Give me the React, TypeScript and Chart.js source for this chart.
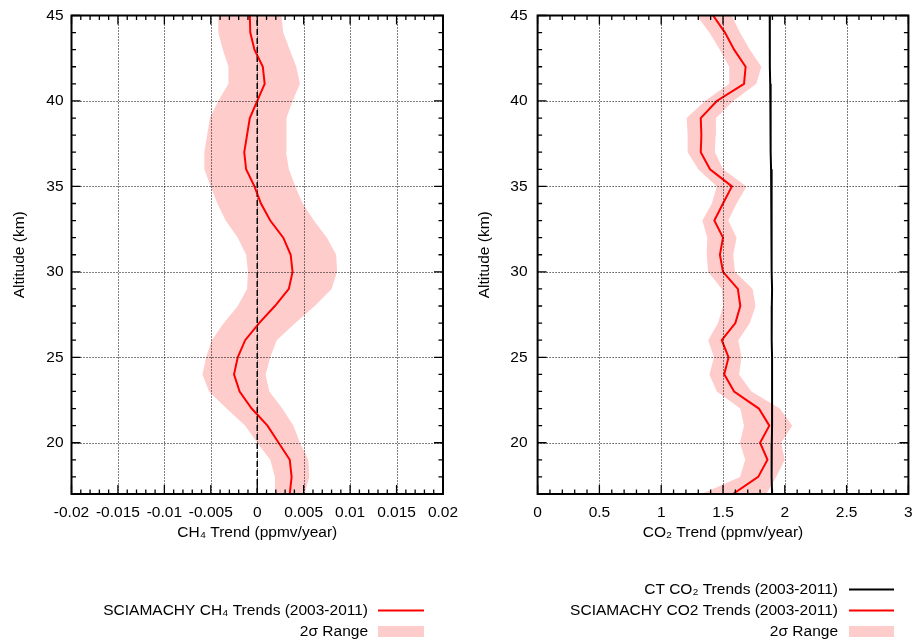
import React, { useEffect, useRef } from "react";
import { Chart, registerables } from "chart.js";

Chart.register(...registerables);

const FONT = "'Liberation Sans', Arial, Helvetica, sans-serif";
const FONT_SIZE = 15.5;

// ---------------- data ----------------
const altitudes = [45, 44, 43, 42, 41, 40, 39, 38, 37, 36, 35, 34, 33, 32, 31, 30, 29, 28, 27, 26, 25, 24, 23, 22, 21, 20, 19, 18, 17];

const ch4Trend = [-0.0008, -0.00075, -0.0003, 0.0006, 0.0008, 0.0, -0.0008, -0.0011, -0.0014, -0.0012, -0.0003, 0.0004, 0.0014, 0.0028, 0.0036, 0.0038, 0.0034, 0.0019, 0.0002, -0.0013, -0.0021, -0.0025, -0.0019, -0.0006, 0.0011, 0.0023, 0.0035, 0.0037, 0.0035];
const ch4Low = [-0.0042, -0.0042, -0.0037, -0.0031, -0.0031, -0.0042, -0.0051, -0.0054, -0.0057, -0.0057, -0.005, -0.0043, -0.0034, -0.0021, -0.0012, -0.001, -0.0011, -0.0021, -0.0036, -0.0049, -0.0055, -0.0059, -0.0052, -0.0033, -0.0013, 0.0, 0.0014, 0.0019, 0.0019];
const ch4High = [0.0026, 0.0028, 0.0035, 0.0042, 0.0046, 0.0038, 0.0032, 0.0031, 0.0031, 0.0034, 0.0041, 0.0049, 0.0061, 0.0075, 0.0085, 0.0086, 0.008, 0.0062, 0.0041, 0.0021, 0.0014, 0.0009, 0.0013, 0.0027, 0.0039, 0.0046, 0.0055, 0.0056, 0.0051];
const zeroTrend = [0, 0];
const zeroAltitudes = [17, 45];

const co2Trend = [1.42, 1.516, 1.59, 1.683, 1.67, 1.45, 1.32, 1.325, 1.32, 1.395, 1.572, 1.5, 1.43, 1.5, 1.475, 1.5, 1.62, 1.64, 1.6, 1.49, 1.545, 1.51, 1.59, 1.79, 1.875, 1.8, 1.86, 1.785, 1.58];
const co2Low = [1.287, 1.39, 1.475, 1.55, 1.55, 1.354, 1.206, 1.214, 1.214, 1.3, 1.45, 1.41, 1.333, 1.373, 1.368, 1.38, 1.49, 1.5, 1.46, 1.38, 1.427, 1.39, 1.45, 1.64, 1.67, 1.637, 1.68, 1.637, 1.327];
const co2High = [1.57, 1.637, 1.718, 1.81, 1.77, 1.583, 1.443, 1.44, 1.435, 1.5, 1.69, 1.61, 1.543, 1.61, 1.583, 1.597, 1.74, 1.763, 1.718, 1.624, 1.65, 1.63, 1.73, 1.96, 2.06, 1.97, 2.0, 1.93, 1.85];
const ctCo2Trend = [1.878, 1.878, 1.879, 1.88, 1.882, 1.884, 1.885, 1.886, 1.887, 1.889, 1.891, 1.892, 1.893, 1.894, 1.895, 1.896, 1.897, 1.895, 1.892, 1.896, 1.897, 1.897, 1.897, 1.897, 1.897, 1.895, 1.892, 1.895, 1.897];

const altitudeTicks = [20, 25, 30, 35, 40, 45];
const ch4Ticks = [-0.02, -0.015, -0.01, -0.005, 0, 0.005, 0.01, 0.015, 0.02];
const co2Ticks = [0, 0.5, 1, 1.5, 2, 2.5, 3];

// --------------- helpers ---------------
const profile = (xs: number[], ys: number[]) => ys.map((y, i) => ({ x: xs[i], y }));
const band = (lo: number[], hi: number[]) => [
  ...profile(lo, altitudes),
  ...profile(hi, altitudes).reverse(),
];

const framePlugin = {
  id: "gnuFrame",
  afterDatasetsDraw(chart: any, _a: any, opts: any) {
    const { ctx, chartArea: a, scales } = chart;
    const xs = scales.x;
    const ys = scales.y;
    ctx.save();
    // dotted grid in front
    ctx.strokeStyle = "#000";
    ctx.lineWidth = 1;
    ctx.setLineDash([1, 2]);
    xs.ticks.forEach((t: any) => {
      if (t.value <= xs.min || t.value >= xs.max) return;
      const px = Math.round(xs.getPixelForValue(t.value)) + 0.5;
      ctx.beginPath();
      ctx.moveTo(px, a.top);
      ctx.lineTo(px, a.bottom);
      ctx.stroke();
    });
    ys.ticks.forEach((t: any) => {
      if (t.value <= ys.min || t.value >= ys.max) return;
      const py = Math.round(ys.getPixelForValue(t.value)) + 0.5;
      ctx.beginPath();
      ctx.moveTo(a.left, py);
      ctx.lineTo(a.right, py);
      ctx.stroke();
    });
    ctx.setLineDash([]);
    // ticks (inward, mirrored)
    ctx.lineWidth = 1.3;
    const isMajor = (scale: any, v: number) =>
      scale.ticks.some((t: any) => Math.abs(t.value - v) < 1e-9);
    const doTicks = (scale: any, step: number, horizontal: boolean) => {
      const n = Math.round((scale.max - scale.min) / step);
      for (let i = 0; i <= n; i++) {
        const v = scale.min + i * step;
        const len = isMajor(scale, v) ? 9 : 4.5;
        const p = scale.getPixelForValue(v);
        ctx.beginPath();
        if (horizontal) {
          ctx.moveTo(p, a.bottom);
          ctx.lineTo(p, a.bottom - len);
          ctx.moveTo(p, a.top);
          ctx.lineTo(p, a.top + len);
        } else {
          ctx.moveTo(a.left, p);
          ctx.lineTo(a.left + len, p);
          ctx.moveTo(a.right, p);
          ctx.lineTo(a.right - len, p);
        }
        ctx.stroke();
      }
    };
    doTicks(xs, opts.xMinor, true);
    doTicks(ys, opts.yMinor, false);
    // border
    ctx.lineWidth = 2;
    ctx.strokeRect(a.left, a.top, a.right - a.left, a.bottom - a.top);
    ctx.restore();
  },
  afterDraw(chart: any, _a: any, opts: any) {
    const { ctx } = chart;
    const items = chart.data.datasets.filter((d: any) => d.label);
    const n = items.length;
    ctx.save();
    ctx.font = `${FONT_SIZE}px ${FONT}`;
    ctx.textAlign = "right";
    ctx.textBaseline = "middle";
    items.forEach((d: any, i: number) => {
      const y = opts.bottomY - (n - 1 - i) * opts.rowGap;
      ctx.fillStyle = "#000";
      ctx.fillText(d.label, opts.textRight, y);
      if (d.legendKind === "box") {
        ctx.fillStyle = d.backgroundColor;
        ctx.fillRect(opts.sampleLeft, y - 5.5, opts.sampleRight - opts.sampleLeft, 11);
      } else {
        ctx.strokeStyle = d.borderColor;
        ctx.lineWidth = 2;
        ctx.beginPath();
        ctx.moveTo(opts.sampleLeft, y);
        ctx.lineTo(opts.sampleRight, y);
        ctx.stroke();
      }
    });
    ctx.restore();
  },
};

function makeOptions(p: any) {
  const font = { family: FONT, size: FONT_SIZE };
  return {
    animation: false,
    responsive: false,
    devicePixelRatio: 1,
    events: [],
    layout: { padding: { left: 0, top: 15.5, right: p.padRight, bottom: 80 } },
    elements: { point: { radius: 0 }, line: { tension: 0 } },
    plugins: {
      legend: { display: false },
      tooltip: { enabled: false },
      gnuFrame: {
        xMinor: p.xMinor,
        yMinor: 1,
        textRight: p.legend.textRight,
        sampleLeft: p.legend.sampleLeft,
        sampleRight: p.legend.sampleRight,
        bottomY: 631.5,
        rowGap: 21,
      },
    },
    scales: {
      x: {
        type: "linear",
        min: p.xMin,
        max: p.xMax,
        grid: { display: false, drawTicks: false },
        border: { display: false },
        afterBuildTicks: (s: any) => {
          s.ticks = p.xTicks.map((value: number) => ({ value }));
        },
        afterFit: (s: any) => {
          s.height = 66;
          s.paddingLeft = 0;
          s.paddingRight = 0;
          s.paddingTop = 0;
          s.paddingBottom = 0;
        },
        ticks: {
          callback: (v: number) => String(v),
          font,
          color: "#000",
          padding: 9,
          maxRotation: 0,
          autoSkip: false,
        },
        title: {
          display: true,
          text: p.xTitle,
          font,
          color: "#000",
          padding: { top: 0, bottom: 18 },
        },
      },
      y: {
        type: "linear",
        min: 17,
        max: 45,
        grid: { display: false, drawTicks: false },
        border: { display: false },
        afterBuildTicks: (s: any) => {
          s.ticks = altitudeTicks.map((value: number) => ({ value }));
        },
        afterFit: (s: any) => {
          s.width = p.yWidth;
          s.paddingLeft = 0;
          s.paddingRight = 0;
          s.paddingTop = 0;
          s.paddingBottom = 0;
        },
        ticks: {
          callback: (v: number) => String(v),
          font,
          color: "#000",
          padding: p.yTickPad,
          autoSkip: false,
        },
        title: {
          display: true,
          text: "Altitude (km)",
          font,
          color: "#000",
          padding: { top: p.yTitlePad, bottom: 0 },
        },
      },
    },
  };
}

export default function App() {
  const leftRef = useRef<HTMLCanvasElement | null>(null);
  const rightRef = useRef<HTMLCanvasElement | null>(null);

  useEffect(() => {
    const left = new Chart(leftRef.current as HTMLCanvasElement, {
      type: "line",
      data: {
        datasets: [
          {
            label: "SCIAMACHY CH₄ Trends (2003-2011)",
            legendKind: "line",
            data: profile(ch4Trend, altitudes),
            borderColor: "#ff0000",
            borderWidth: 2,
            pointRadius: 0,
            fill: false,
          },
          {
            data: profile(zeroTrend, zeroAltitudes),
            borderColor: "#000000",
            borderWidth: 1.5,
            borderDash: [6, 3],
            pointRadius: 0,
            fill: false,
          },
          {
            label: "2σ Range",
            legendKind: "box",
            data: band(ch4Low, ch4High),
            backgroundColor: "#ffcccc",
            borderColor: "rgba(0,0,0,0)",
            borderWidth: 0,
            pointRadius: 0,
            fill: "shape",
          },
        ],
      } as any,
      options: makeOptions({
        padRight: 15,
        xMin: -0.02,
        xMax: 0.02,
        xTicks: ch4Ticks,
        xMinor: 0.001,
        xTitle: "CH₄ Trend (ppmv/year)",
        yWidth: 71.5,
        yTickPad: 8,
        yTitlePad: 10,
        legend: { textRight: 368, sampleLeft: 378, sampleRight: 424 },
      }) as any,
      plugins: [framePlugin as any],
    });

    const right = new Chart(rightRef.current as HTMLCanvasElement, {
      type: "line",
      data: {
        datasets: [
          {
            label: "CT CO₂ Trends (2003-2011)",
            legendKind: "line",
            data: profile(ctCo2Trend, altitudes),
            borderColor: "#000000",
            borderWidth: 2,
            pointRadius: 0,
            fill: false,
          },
          {
            label: "SCIAMACHY CO2 Trends (2003-2011)",
            legendKind: "line",
            data: profile(co2Trend, altitudes),
            borderColor: "#ff0000",
            borderWidth: 2,
            pointRadius: 0,
            fill: false,
          },
          {
            label: "2σ Range",
            legendKind: "box",
            data: band(co2Low, co2High),
            backgroundColor: "#ffcccc",
            borderColor: "rgba(0,0,0,0)",
            borderWidth: 0,
            pointRadius: 0,
            fill: "shape",
          },
        ],
      } as any,
      options: makeOptions({
        padRight: 7.6,
        xMin: 0,
        xMax: 3,
        xTicks: co2Ticks,
        xMinor: 0.1,
        xTitle: "CO₂ Trend (ppmv/year)",
        yWidth: 79.6,
        yTickPad: 10,
        yTitlePad: 17,
        legend: { textRight: 380, sampleLeft: 391, sampleRight: 436 },
      }) as any,
      plugins: [framePlugin as any],
    });

    return () => {
      left.destroy();
      right.destroy();
    };
  }, []);

  return (
    <div style={{ position: "absolute", left: 0, top: 0, width: 916, height: 640, background: "#fff" }}>
      <canvas ref={leftRef} width={458} height={640} style={{ position: "absolute", left: 0, top: 0, width: 458, height: 640 }} />
      <canvas ref={rightRef} width={458} height={640} style={{ position: "absolute", left: 458, top: 0, width: 458, height: 640 }} />
    </div>
  );
}
